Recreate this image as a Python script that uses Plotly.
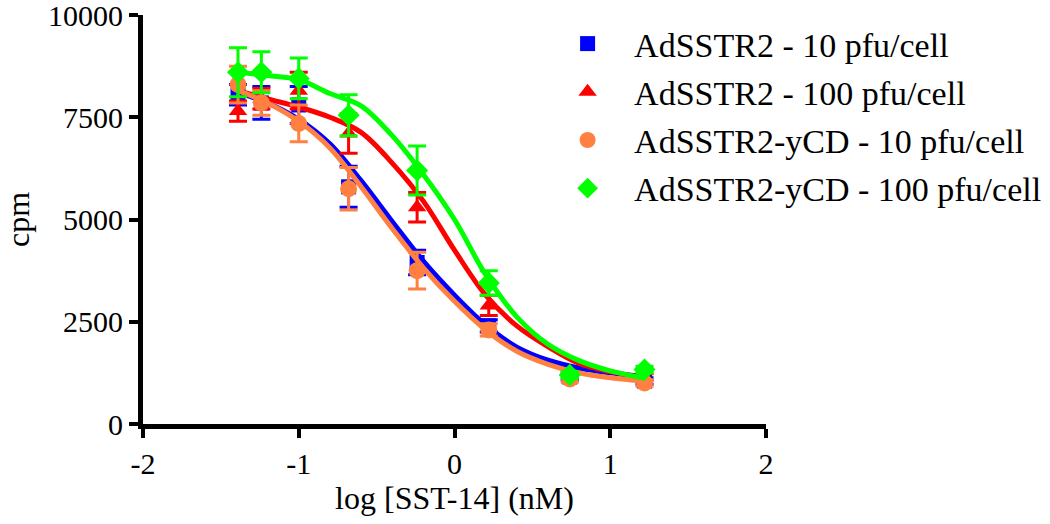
import plotly.graph_objects as go

# Data points (log concentration, mean cpm, SEM)
log_conc = [-1.39, -1.24, -1.0, -0.68, -0.24, 0.22, 0.74, 1.22]

names = ["AdSSTR2 - 10 pfu/cell", "AdSSTR2 - 100 pfu/cell",
         "AdSSTR2-yCD - 10 pfu/cell", "AdSSTR2-yCD - 100 pfu/cell"]

blue_mean = [8050, 7850, 7800, 5800, 3950, 2400, 1150, 1050]
blue_err = [250, 400, 450, 500, 300, 150, 80, 80]
red_mean = [7650, 7950, 8150, 7100, 5300, 2900, 1200, 1150]
red_err = [250, 250, 450, 480, 360, 250, 80, 80]
orange_mean = [8300, 7850, 7350, 5750, 3750, 2300, 1100, 1000]
orange_err = [450, 300, 450, 520, 450, 150, 80, 80]
green_mean = [8600, 8600, 8450, 7550, 6200, 3450, 1200, 1330]
green_err = [600, 500, 500, 500, 600, 300, 80, 80]

# Fitted curves
curve_x = [-1.39, -1.2, -1.0, -0.8, -0.6, -0.4, -0.2, 0.0, 0.2, 0.4, 0.6, 0.8, 1.0, 1.22]
blue_fit = [8100, 7850, 7450, 6850, 5950, 4950, 3980, 3150, 2420, 1880, 1560, 1370, 1250, 1160]
red_fit = [8150, 7950, 7750, 7500, 7130, 6380, 5450, 4250, 3150, 2400, 1890, 1480, 1280, 1130]
orange_fit = [8150, 7850, 7400, 6750, 5800, 4780, 3820, 3000, 2300, 1780, 1460, 1250, 1130, 1050]
green_fit = [8600, 8520, 8420, 8080, 7780, 7050, 6100, 5000, 3650, 2620, 1950, 1550, 1300, 1120]

x_ticks = [-2, -1, 0, 1, 2]
x_ticktext = ["-2", "-1", "0", "1", "2"]
y_ticks = [0, 2500, 5000, 7500, 10000]
y_ticktext = ["0", "2500", "5000", "7500", "10000"]

colors = ["#0000FF", "#FF0000", "#FF8040", "#00FF00"]
symbols = ["square", "triangle-up", "circle", "diamond"]
sizes = [15, 16, 17, 17]

means = [blue_mean, red_mean, orange_mean, green_mean]
errs = [blue_err, red_err, orange_err, green_err]
fits = [blue_fit, red_fit, orange_fit, green_fit]

fig = go.Figure()
for i in range(4):
    fig.add_trace(go.Scatter(
        x=curve_x, y=fits[i], mode="lines",
        line=dict(color=colors[i], width=5, shape="spline", smoothing=1),
        showlegend=False, hoverinfo="skip"))
    fig.add_trace(go.Scatter(
        x=log_conc, y=means[i], mode="markers", name=names[i],
        legendgroup=str(i),
        marker=dict(color=colors[i], symbol=symbols[i], size=sizes[i], line=dict(width=0)),
        error_y=dict(type="data", array=errs[i], visible=True, color=colors[i],
                     thickness=3, width=9)))

serif = "Liberation Serif"
fig.update_layout(
    width=1050, height=524,
    margin=dict(l=143, r=284, t=15, b=100, autoexpand=False),
    plot_bgcolor="white", paper_bgcolor="white",
    font=dict(family=serif, color="black", size=30),
    legend=dict(x=0.639, y=1.0, xanchor="left", yanchor="top",
                font=dict(family=serif, size=34, color="black"),
                tracegroupgap=1, itemwidth=83, bgcolor="rgba(0,0,0,0)"),
    xaxis=dict(range=[-2, 2], tickvals=x_ticks, ticktext=x_ticktext,
               showline=True, linecolor="black", linewidth=5,
               ticks="outside", ticklen=9, tickwidth=4, tickcolor="black",
               showgrid=False, zeroline=False,
               tickfont=dict(family=serif, size=30),
               title=dict(text="log [SST-14] (nM)", font=dict(family=serif, size=32), standoff=8)),
    yaxis=dict(range=[0, 10000], tickvals=y_ticks, ticktext=y_ticktext,
               ticklabeloverflow="allow",
               showline=True, linecolor="black", linewidth=5,
               ticks="outside", ticklen=9, tickwidth=4, tickcolor="black",
               showgrid=False, zeroline=False,
               tickfont=dict(family=serif, size=30),
               title=dict(text="cpm", font=dict(family=serif, size=32), standoff=26)),
)

fig.write_html("out.html", config={"displayModeBar": False},
               post_script="document.body.style.margin='0';")
